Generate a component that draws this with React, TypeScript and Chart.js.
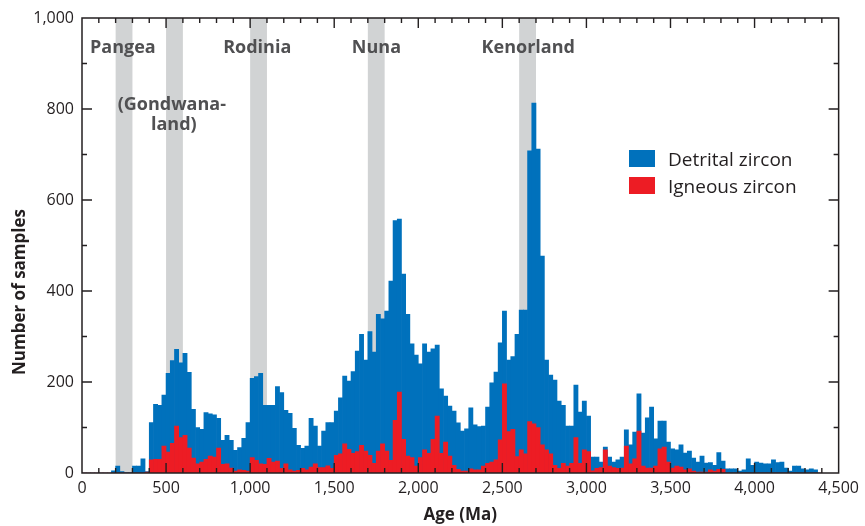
import React, { useEffect, useRef } from "react";
import { Chart, registerables } from "chart.js";

Chart.register(...registerables);

// ---- data ----
const BIN_WIDTH = 25; // Ma
const FIRST_BIN = 0; // Ma, start of first bin

// Detrital zircon counts per 25 Ma bin, 0 .. 4375 Ma (rows of 500 Ma)
const detrital = [
  0, 0, 0, 0, 0, 0, 0, 5, 15, 3, 1, 1, 15, 15, 31, 3, 111, 151, 149, 171,
  219, 247, 272, 242, 263, 221, 140, 100, 96, 133, 130, 128, 120, 72, 83, 72, 50, 56, 76, 111,
  208, 212, 219, 149, 149, 149, 190, 177, 138, 131, 98, 61, 54, 59, 120, 103, 59, 92, 111, 111,
  136, 165, 213, 202, 223, 268, 305, 248, 311, 266, 349, 339, 356, 422, 555, 558, 437, 349, 284, 259,
  240, 284, 266, 273, 281, 185, 169, 147, 136, 110, 92, 97, 143, 106, 102, 103, 145, 198, 222, 286,
  356, 248, 256, 305, 358, 358, 708, 813, 712, 477, 248, 215, 204, 158, 149, 103, 103, 193, 134, 158,
  125, 35, 35, 24, 57, 35, 24, 29, 35, 95, 62, 90, 174, 88, 121, 145, 75, 114, 114, 68,
  53, 51, 62, 44, 48, 33, 24, 37, 22, 23, 17, 45, 26, 9, 9, 9, 4, 7, 31, 17,
  24, 22, 20, 20, 29, 23, 24, 11, 4, 15, 15, 9, 7, 9, 7, 0,
];

// Igneous zircon counts per 25 Ma bin, 0 .. 4375 Ma
const igneous = [
  0, 0, 0, 0, 0, 0, 0, 0, 0, 0, 0, 0, 0, 0, 0, 2, 29, 30, 30, 59,
  46, 65, 103, 78, 83, 55, 33, 20, 24, 30, 37, 35, 55, 19, 20, 11, 4, 7, 6, 4,
  34, 28, 20, 19, 32, 24, 26, 10, 20, 7, 4, 6, 10, 7, 13, 20, 12, 12, 16, 10,
  39, 42, 64, 52, 43, 47, 61, 48, 39, 21, 48, 64, 48, 28, 116, 178, 74, 37, 34, 15,
  34, 51, 43, 74, 125, 43, 68, 37, 17, 8, 4, 4, 9, 7, 7, 15, 21, 24, 29, 73,
  196, 91, 96, 36, 51, 42, 113, 108, 100, 62, 51, 42, 17, 10, 21, 15, 21, 78, 21, 51,
  47, 5, 10, 12, 51, 15, 12, 10, 11, 59, 20, 31, 92, 15, 11, 11, 15, 53, 57, 24,
  11, 15, 13, 7, 9, 4, 2, 2, 2, 7, 4, 8, 8, 0, 0, 0, 0, 0, 0, 0,
  0, 0, 0, 0, 0, 0, 0, 0, 0, 0, 0, 0, 0, 0, 0, 0,
];

// Supercontinent assembly intervals (Ma)
const bandStart = [200, 500, 1000, 1700, 2600];
const bandEnd = [300, 600, 1100, 1800, 2700];

// Annotation texts
const annotationText = ["Pangea", "(Gondwana-", "land)", "Rodinia", "Nuna", "Kenorland"];
// anchor (age, count) for each annotation's baseline centre
const annotationAge = [243, 534, 546, 1042, 1751, 2654];
const annotationCount = [923, 797, 754, 923, 923, 923];

const seriesNames = ["Detrital zircon", "Igneous zircon"];

const X_MIN = 0;
const X_MAX = 4500;
const X_MAJOR = 500;
const X_MINOR = 100;
const Y_MIN = 0;
const Y_MAX = 1000;
const Y_MAJOR = 200;
const Y_MINOR = 100;

// ---- styles ----
const BLUE = "#0071bc";
const RED = "#ed1c24";
const BAND = "#d1d3d4";
const AXIS = "#231f20";
const LABEL_GREY = "#505052";
const FONT = "'Open Sans', sans-serif";

const toPoints = (vals: number[]) =>
  vals.map((v, i) => ({ x: FIRST_BIN + i * BIN_WIDTH + BIN_WIDTH / 2, y: v }));

const decorPlugin = {
  id: "decor",
  beforeDatasetsDraw(chart: any) {
    const { ctx, chartArea, scales } = chart;
    const xs = scales.x;
    ctx.save();
    ctx.fillStyle = BAND;
    for (let i = 0; i < bandStart.length; i++) {
      const x0 = xs.getPixelForValue(bandStart[i]);
      const x1 = xs.getPixelForValue(bandEnd[i]);
      ctx.fillRect(x0, chartArea.top, x1 - x0, chartArea.bottom - chartArea.top);
    }
    ctx.restore();
  },
  afterDatasetsDraw(chart: any) {
    const { ctx, scales } = chart;
    const xs = scales.x;
    const ys = scales.y;
    ctx.save();
    // annotations
    ctx.fillStyle = LABEL_GREY;
    ctx.font = `bold 18px ${FONT}`;
    ctx.textAlign = "center";
    ctx.textBaseline = "alphabetic";
    for (let i = 0; i < annotationText.length; i++) {
      ctx.fillText(
        annotationText[i],
        xs.getPixelForValue(annotationAge[i]),
        ys.getPixelForValue(annotationCount[i])
      );
    }
    // legend
    const colors = [BLUE, RED];
    ctx.font = `19px ${FONT}`;
    ctx.textAlign = "left";
    for (let i = 0; i < seriesNames.length; i++) {
      const top = 150 + i * 27;
      ctx.fillStyle = colors[i];
      ctx.fillRect(629, top, 26, 17);
      ctx.fillStyle = AXIS;
      ctx.fillText(seriesNames[i], 668, top + 16);
    }
    // y title
    ctx.save();
    ctx.translate(20, 292);
    ctx.rotate(-Math.PI / 2);
    ctx.font = `bold 17px ${FONT}`;
    ctx.textAlign = "center";
    ctx.textBaseline = "middle";
    ctx.fillStyle = AXIS;
    ctx.fillText("Number of samples", 0, 0);
    ctx.restore();
    ctx.restore();
  },
  afterDraw(chart: any) {
    const { ctx, chartArea, scales } = chart;
    const xs = scales.x;
    const ys = scales.y;
    const { left, right, top, bottom } = chartArea;
    ctx.save();
    ctx.strokeStyle = AXIS;
    ctx.lineWidth = 1.4;
    ctx.beginPath();
    for (let v = X_MIN + X_MINOR; v < X_MAX; v += X_MINOR) {
      const px = xs.getPixelForValue(v);
      const len = v % X_MAJOR === 0 ? 10 : 5;
      ctx.moveTo(px, bottom);
      ctx.lineTo(px, bottom - len);
      ctx.moveTo(px, top);
      ctx.lineTo(px, top + len);
    }
    for (let v = Y_MIN + Y_MINOR; v < Y_MAX; v += Y_MINOR) {
      const py = ys.getPixelForValue(v);
      const len = v % Y_MAJOR === 0 ? 10 : 5;
      ctx.moveTo(left, py);
      ctx.lineTo(left + len, py);
      ctx.moveTo(right, py);
      ctx.lineTo(right - len, py);
    }
    ctx.stroke();
    ctx.lineWidth = 1.5;
    ctx.strokeRect(left, top, right - left, bottom - top);
    ctx.restore();
  },
};

export default function App() {
  const canvasRef = useRef<HTMLCanvasElement | null>(null);

  useEffect(() => {
    if (!canvasRef.current) return;
    const chart = new Chart(canvasRef.current, {
      type: "bar",
      data: {
        datasets: [
          {
            label: seriesNames[1],
            data: toPoints(igneous),
            backgroundColor: RED,
            order: 0,
            grouped: false,
          } as any,
          {
            label: seriesNames[0],
            data: toPoints(detrital),
            backgroundColor: BLUE,
            order: 1,
            grouped: false,
          } as any,
        ],
      },
      options: {
        responsive: false,
        animation: false,
        events: [],
        layout: { padding: { top: 18, right: 25, left: 0, bottom: 0 } },
        datasets: {
          bar: {
            barPercentage: 1,
            categoryPercentage: 1,
            borderWidth: 0,
            grouped: false,
          } as any,
        },
        plugins: {
          legend: { display: false },
          tooltip: { enabled: false },
        },
        scales: {
          x: {
            type: "linear",
            min: X_MIN,
            max: X_MAX,
            offset: false,
            grid: { display: false, drawTicks: false },
            border: { display: false },
            ticks: {
              stepSize: X_MAJOR,
              autoSkip: false,
              maxRotation: 0,
              padding: 6,
              color: AXIS,
              font: { family: FONT, size: 16 },
              callback: (v: any) => Number(v).toLocaleString("en-US"),
            },
            title: {
              display: true,
              text: "Age (Ma)",
              color: AXIS,
              font: { family: FONT, size: 17, weight: "bold" },
              padding: { top: 0, bottom: 1 },
            },
            afterFit: (s: any) => {
              s.height = 53;
            },
          } as any,
          y: {
            type: "linear",
            min: Y_MIN,
            max: Y_MAX,
            grid: { display: false, drawTicks: false },
            border: { display: false },
            ticks: {
              stepSize: Y_MAJOR,
              padding: 8,
              color: AXIS,
              font: { family: FONT, size: 16 },
              callback: (v: any) => Number(v).toLocaleString("en-US"),
            },
            afterFit: (s: any) => {
              s.width = 82;
            },
          } as any,
        },
      },
      plugins: [decorPlugin],
    });
    return () => chart.destroy();
  }, []);

  return (
    <div style={{ position: "absolute", left: 0, top: 0, width: 865, height: 526, background: "#fff" }}>
      <canvas ref={canvasRef} width={865} height={526} style={{ display: "block" }} />
    </div>
  );
}
